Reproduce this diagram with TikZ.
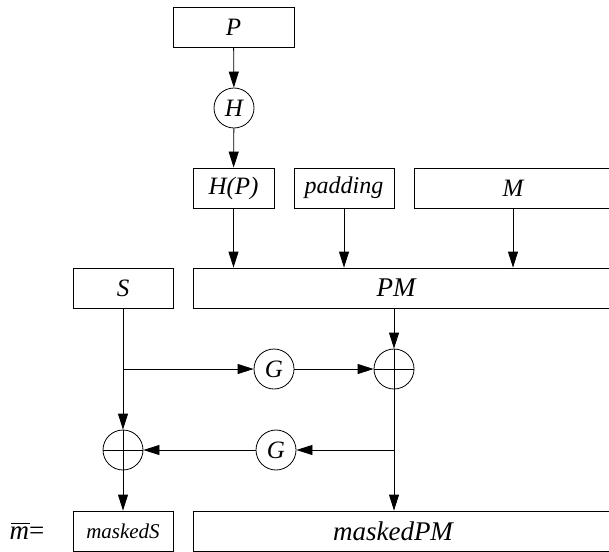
\documentclass[tikz,border=0pt]{standalone}
\usepackage{fontspec}
\setmainfont{Liberation Serif}
\usetikzlibrary{arrows.meta}
\tikzset{
  fs/.style={font=\fontsize{#1}{#1}\selectfont\itshape},
  blk/.style={draw, line width=0.8pt, rectangle, inner sep=0pt, minimum height=40pt, fs=24},
  fn/.style={draw, line width=0.8pt, circle, inner sep=0pt, minimum size=40pt, fs=25},
  xor/.style={draw, line width=0.8pt, circle, inner sep=0pt, minimum size=40pt,
    path picture={\draw[line width=0.8pt] (path picture bounding box.north) -- (path picture bounding box.south)
      (path picture bounding box.west) -- (path picture bounding box.east);}},
  arr/.style={line width=0.8pt, -{Triangle[length=16pt,width=10pt]}},
  ln/.style={line width=0.8pt}
}
\begin{document}
\begin{tikzpicture}[x=1pt,y=-1pt]
\useasboundingbox (0,0) rectangle (609,551);
\clip (0,0) rectangle (609,551);
\node[blk, minimum width=121pt, fs=25] (P) at (233.5,27) {P};
\node[fn] (H) at (234,108) {H};
\node[blk, minimum width=81pt, fs=25] (HP) at (233.5,188) {H(P)};
\node[blk, minimum width=100pt] (pad) at (344,188) {padding};
\node[blk, minimum width=198pt, fs=25] (M) at (513,188) {M};
\node[blk, minimum width=100pt, fs=25] (S) at (123,288) {S};
\node[blk, minimum width=432pt, label={[fs=27, xshift=-13pt]center:PM}] (PM) at (409,288) {};
\node[fn] (G1) at (274,369) {G};
\node[xor] (X1) at (394,369) {};
\node[xor] (X2) at (123,450) {};
\node[fn] (G2) at (276,450) {G};
\node[blk, minimum width=100pt, fs=21] (mS) at (123,531) {maskedS};
\node[blk, minimum width=432pt, label={[fs=27, xshift=-16pt]center:maskedPM}] (mPM) at (409,531) {};
\node[font=\fontsize{27}{27}\selectfont, anchor=center, inner sep=0pt] (mbar) at (27,531)
  {\rlap{\hspace{0.06em}\raisebox{0.56em}{\rule{0.68em}{0.05em}}}\textit{m}=};
\coordinate (b1) at (S.south |- G1);
\coordinate (b2) at (X1 |- G2);
\draw[arr] (P) -- (H);
\draw[arr] (H) -- (HP);
\draw[arr] (HP) -- (HP |- PM.north);
\draw[arr] (pad) -- (pad |- PM.north);
\draw[arr] (M) -- (M |- PM.north);
\draw[arr] (X1 |- PM.south) -- (X1);
\draw[arr] (S) -- (X2);
\draw[arr] (b1) -- (G1);
\draw[arr] (G1) -- (X1);
\draw[arr] (X1) -- (X1 |- mPM.north);
\draw[arr] (b2) -- (G2);
\draw[arr] (G2) -- (X2);
\draw[arr] (X2) -- (mS);
\end{tikzpicture}
\end{document}
